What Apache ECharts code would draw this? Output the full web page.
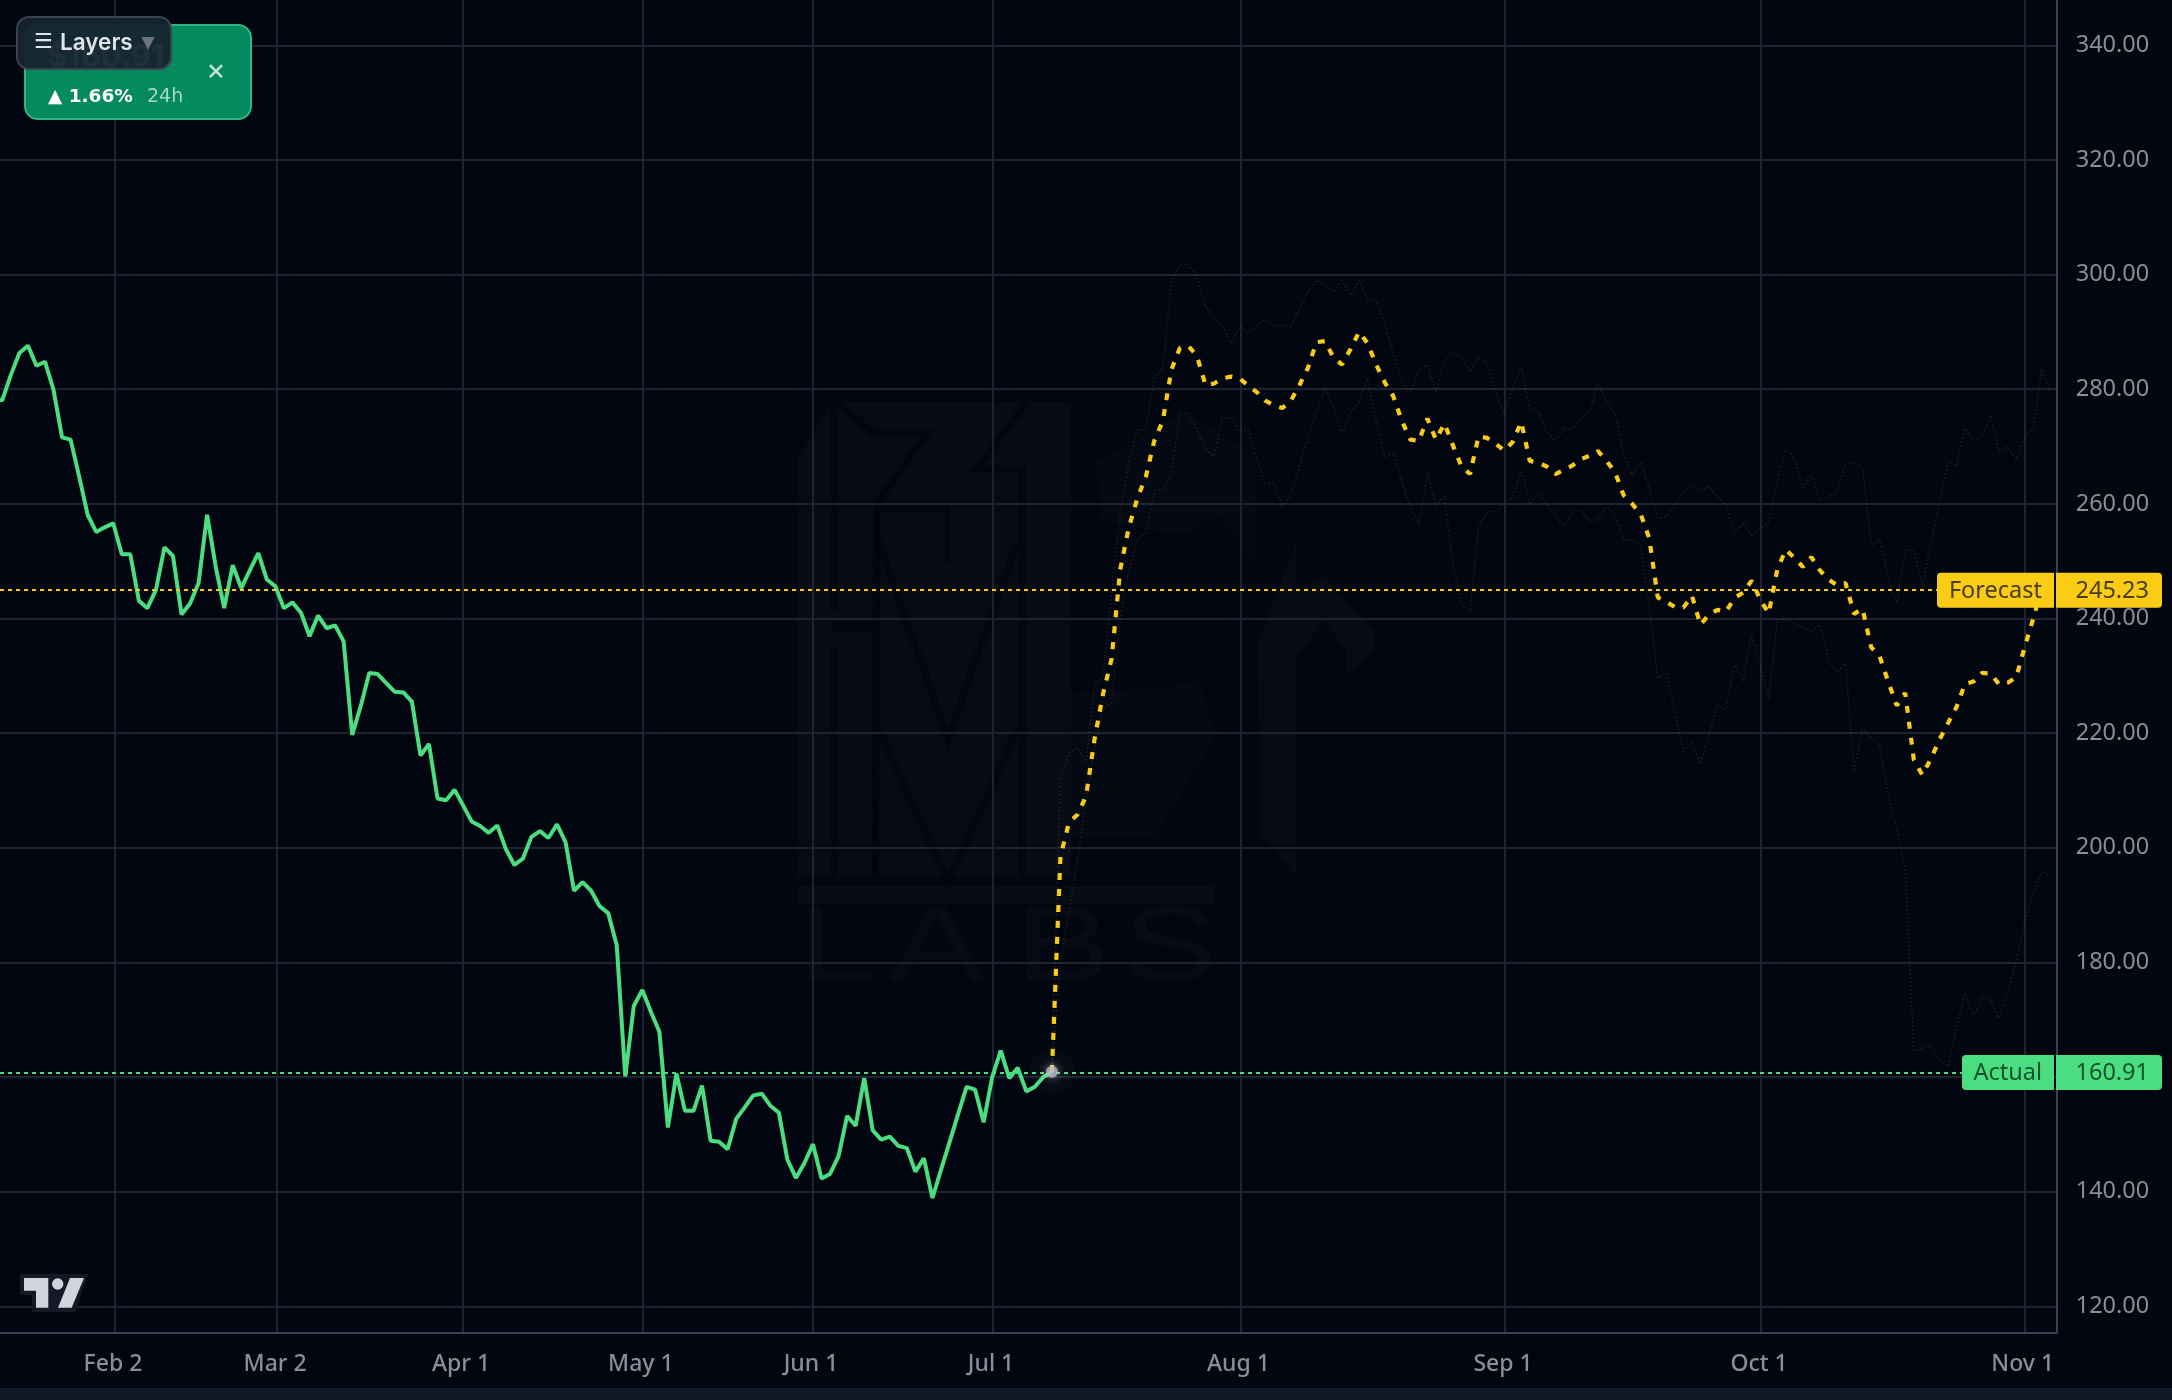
<!DOCTYPE html>
<html>
<head>
<meta charset="utf-8">
<title>Forecast vs actual</title>
<script src="https://cdn.jsdelivr.net/npm/echarts@6/dist/echarts.min.js"></script>
<style>
html, body { margin: 0; padding: 0; background: #020611; }
#chart { width: 2172px; height: 1400px; }
</style>
</head>
<body>
<div id="chart"></div>
<script>
// x axis is the bar index of the source chart (weekdays up to July, then calendar days)
const monthBars = [13.2, 32.2, 54, 75.06, 95, 116.1, 145.1, 176.1, 206.1, 237];
const monthLabels = ['Feb 2', 'Mar 2', 'Apr 1', 'May 1', 'Jun 1', 'Jul 1', 'Aug 1', 'Sep 1', 'Oct 1', 'Nov 1'];
const priceTicks = [120, 140, 160, 180, 200, 220, 240, 260, 280, 300, 320, 340];

const actualStart = -1;
const actual = [
  278.1, 278.1, 282.5, 286.3, 287.6, 284.1, 284.8, 279.9, 271.6, 271.2, 264.8,
  258.1, 255.1, 255.9, 256.6, 251.2, 251.2, 243.1, 241.8, 245, 252.4,
  250.9, 240.7, 242.6, 246.2, 258.1, 249.1, 241.8, 249.3, 245.3, 248.4,
  251.4, 246.8, 245.6, 241.8, 242.8, 241, 236.9, 240.5, 238.3, 238.8,
  236, 219.7, 224.7, 230.5, 230.3, 228.7, 227.2, 227.1, 225.5, 216.1,
  218.1, 208.6, 208.3, 210.1, 207.4, 204.6, 203.8, 202.6, 203.9, 199.8,
  197, 198.1, 201.9, 202.9, 201.7, 204.1, 201, 192.5, 194, 192.5,
  189.8, 188.6, 183, 160.1, 172.4, 175.2, 171.4, 167.9, 151.2, 160.6,
  154.1, 154.1, 158.5, 148.9, 148.7, 147.4, 152.7, 154.7, 156.8, 157.1,
  155, 153.8, 145.6, 142.4, 145, 148.3, 142.3, 143.1, 146.2, 153.2,
  151.5, 159.8, 150.7, 149.1, 149.6, 148, 147.6, 143.5, 145.8, 138.9,
  143.8, 148.6, 153.5, 158.3, 157.8, 152.1, 160, 164.6, 159.8, 161.6,
  157.5, 158.3, 160, 160.91
];

const forecastStart = 123;
const forecast = [
  160.91, 198.5, 204.4, 205.8, 209, 219, 226.9, 233,
  248.5, 255.8, 260.9, 264.7, 271, 274.5, 283.4, 287.2, 287.5, 285.8,
  280.7, 281, 281.9, 282.2, 281.9, 280.6, 279.5, 278, 277.2, 276.7,
  278, 280.7, 283.7, 288.2, 288.4, 285.5, 284.3, 287, 290, 288,
  284.3, 281.2, 278.8, 274.5, 271.2, 271, 274.9, 271.2, 274, 270.2,
  266.5, 265.2, 271.8, 271.5, 270.5, 269.3, 270.8, 274.3, 267.5, 267.2,
  266.5, 265.2, 265.9, 266.7, 267.8, 268.4, 269.2, 267.5, 265.5, 261.5,
  260, 258.2, 254, 243.7, 242.9, 242, 241.9, 244, 238.9, 240.7,
  241.5, 241.2, 243.6, 244.5, 246.6, 243.3, 240.9, 248.5, 252, 250.6,
  249, 250.7, 248.4, 246.8, 245.8, 246.2, 240.8, 241.7, 235, 233.4,
  229, 224.8, 227, 215.4, 212.7, 215.5, 218.8, 221.7, 224.5, 228.6,
  229, 230.5, 230.4, 228.5, 228.8, 229.7, 235, 240, 245.23
];

// faint band around the forecast, same start bar
const bandUpper = [
  160.91, 212, 216.5, 217.5, 215, 228.3, 230, 244.3,
  258.5, 267.3, 272.8, 273.1, 282, 283.6, 298.8, 301.7, 301.8, 299.5,
  294.5, 292.5, 291, 288, 291, 289.8, 291, 292.2, 290.9, 291.3,
  290.8, 294, 297, 299, 298.1, 297, 299, 296.3, 299, 295.6,
  295.4, 291.5, 286.3, 281.3, 279.4, 283.3, 284.3, 279.5, 285, 286.2,
  285.7, 283, 285.5, 284.5, 279.7, 275.6, 280.2, 283.9, 276.8, 276,
  272.5, 270.9, 273.3, 272.9, 274.9, 276, 281.1, 277.8, 275.5, 268.5,
  265, 267.3, 262.7, 257.5, 257.8, 260, 261.9, 263.3, 262.4, 263,
  261.3, 259.8, 254.9, 256.7, 254.3, 255.6, 256.9, 263.9, 269.8, 268,
  262.9, 265.1, 260.4, 261.3, 261.9, 267.1, 267.3, 266.1, 252.7, 253.7,
  247, 242.7, 251.9, 251.9, 245.6, 253.2, 260.3, 267.4, 266.5, 273.2,
  271, 271.7, 275.5, 269.1, 270, 267.7, 271.7, 273.3, 283.5, 279.3
];
const bandLower = [
  160.91, 180, 188.8, 198, 208.3, 217.5, 224, 225.4,
  239.6, 248.3, 253.6, 255, 262.3, 262.6, 264.9, 276, 275.7, 272.8,
  269.6, 268.3, 274.9, 275.1, 272.6, 273, 268, 263.5, 263.7, 259.4,
  261.7, 266.7, 271.3, 276, 280.3, 276.6, 272.2, 276, 277.8, 281.9,
  274.3, 268.1, 268.9, 263.7, 259.6, 256.4, 265.4, 259.6, 261.4, 249.1,
  242.7, 241.2, 256.1, 258.5, 258.7, 260.2, 261.1, 265.8, 259.9, 262,
  259.9, 257.9, 256.1, 258.5, 258.9, 257, 257.3, 259.5, 258.1, 253.6,
  253.7, 252.8, 242, 229.6, 230.5, 223.8, 216.8, 218.3, 214.6, 219.7,
  224.9, 224.1, 231.9, 229, 237.2, 231.6, 226.1, 239.8, 239.8, 239.2,
  238.4, 237.7, 238.9, 232.8, 230.5, 232.5, 213.3, 220.6, 219.3, 218,
  209.2, 203.2, 196.5, 164.6, 165, 165.5, 163, 161.8, 168.7, 174.7,
  170.5, 174, 173.4, 170.3, 175.1, 179.8, 187.1, 192.1, 195.7, 195.3
];

const actualLevel = 160.8;
const actualText = '160.91';
const forecastLevel = 244.94;
const forecastText = '245.23';

const GREEN = '#4ade80';
const YELLOW = '#facc15';
const AXIS_TEXT = '#8a8e9b';
const WATERMARK = '#070b14';
const WATERMARK_SOFT = '#050913';
const BG = '#020611';
const FONT = '"Noto Sans", sans-serif';

function toPairs(values, start) {
  return values.map((v, i) => [start + i, v]);
}

const chart = echarts.init(document.getElementById('chart'));

chart.setOption({
  animation: false,
  backgroundColor: BG,
  grid: { left: 0, top: 0, right: 115.3, bottom: 67.3 },
  xAxis: {
    type: 'value',
    min: -0.273,
    max: 240.75,
    axisLine: { show: true, onZero: false, lineStyle: { color: '#3a4252', width: 2 } },
    axisTick: { show: false, customValues: monthBars },
    axisLabel: {
      customValues: monthBars,
      color: AXIS_TEXT,
      fontFamily: FONT,
      fontSize: 23,
      fontWeight: 500,
      margin: 20,
      padding: [0, 4, 0, 0],
      formatter: (v) => monthLabels[monthBars.indexOf(v)] || ''
    },
    splitLine: { show: true, lineStyle: { color: '#1c2432', width: 2 } }
  },
  yAxis: {
    type: 'value',
    position: 'right',
    min: 115.4,
    max: 347.9,
    axisLine: { show: true, onZero: false, lineStyle: { color: '#3a4252', width: 2 } },
    axisTick: { show: false, customValues: priceTicks },
    axisLabel: {
      customValues: priceTicks,
      color: AXIS_TEXT,
      fontFamily: FONT,
      fontSize: 23.5,
      margin: 19,
      padding: [2, 0, 0, 0],
      formatter: (v) => v.toFixed(2)
    },
    splitLine: { show: true, lineStyle: { color: '#1c2432', width: 2 } }
  },
  series: [
    {
      name: 'Upper',
      type: 'line',
      data: toPairs(bandUpper, forecastStart),
      showSymbol: false,
      z: 2,
      lineStyle: { color: 'rgba(250,204,21,0.11)', width: 1.6, type: [2, 2] }
    },
    {
      name: 'Lower',
      type: 'line',
      data: toPairs(bandLower, forecastStart),
      showSymbol: false,
      z: 2,
      lineStyle: { color: 'rgba(250,204,21,0.11)', width: 1.6, type: [2, 2] }
    },
    {
      name: 'Actual',
      type: 'line',
      data: toPairs(actual, actualStart),
      showSymbol: false,
      z: 4,
      lineStyle: { color: GREEN, width: 4 },
      markLine: {
        silent: true,
        symbol: 'none',
        label: { show: false },
        lineStyle: { color: GREEN, width: 2, type: [4, 4] },
        data: [{ yAxis: actualLevel }]
      }
    },
    {
      name: 'Forecast',
      type: 'line',
      data: toPairs(forecast, forecastStart),
      showSymbol: false,
      z: 5,
      lineStyle: { color: YELLOW, width: 4.2, type: [7, 9] },
      markLine: {
        silent: true,
        symbol: 'none',
        label: { show: false },
        lineStyle: { color: YELLOW, width: 2, type: [4, 4] },
        data: [{ yAxis: forecastLevel }]
      }
    },
    {
      name: 'Last halo',
      type: 'scatter',
      data: [[forecastStart, actual[actual.length - 1]]],
      symbolSize: 46,
      z: 6,
      itemStyle: { color: 'rgba(255,255,255,0.03)' }
    },
    {
      name: 'Last',
      type: 'scatter',
      data: [[forecastStart, actual[actual.length - 1]]],
      symbolSize: 12,
      z: 7,
      itemStyle: { color: '#b6bac8', shadowBlur: 10, shadowColor: 'rgba(255,255,255,0.6)' }
    }
  ]
});

function poly(points, fill, z) {
  return { type: 'polygon', z: z, silent: true, shape: { points: points }, style: { fill: fill } };
}
function darkLine(points, width) {
  return {
    type: 'polyline', z: -1, silent: true,
    shape: { points: points },
    style: { stroke: BG, lineWidth: width, fill: null }
  };
}
function label(x, y, text, fill, font, align, z) {
  return {
    type: 'text', z: z, silent: true, x: x, y: y,
    style: { text: text, fill: fill, font: font, align: align, verticalAlign: 'middle' }
  };
}
function wideLetter(x, text) {
  const el = label(x, 951, text, WATERMARK, '106px "Liberation Sans", sans-serif', 'left', -2);
  el.scaleX = 1.36;
  return el;
}

// watermark behind the plot
const watermark = [
  poly([[797, 460], [832, 402], [1071, 402], [1071, 877], [797, 877]], WATERMARK, -2),
  poly([[1096, 462], [1183, 413], [1255, 453], [1256, 563], [1219, 515], [1180, 535], [1100, 520]], WATERMARK_SOFT, -2),
  poly([[1071, 694], [1175, 686], [1199, 680], [1215, 735], [1156, 837], [1071, 837]], WATERMARK_SOFT, -2),
  poly([[1258, 641], [1296, 543], [1296, 592], [1324, 576], [1375, 633], [1375, 647], [1347, 676], [1347, 651],
    [1324, 621], [1296, 659], [1296, 877], [1260, 833]], WATERMARK, -2),
  darkLine([[834, 402], [834, 610]], 6),
  darkLine([[834, 647], [834, 877]], 6),
  darkLine([[832, 627], [872, 627]], 12),
  darkLine([[837, 402], [873, 433], [927, 433], [877, 503], [875, 877]], 7),
  darkLine([[877, 508], [947, 508], [947, 563]], 7),
  darkLine([[879, 543], [948, 739], [1017, 543]], 7),
  darkLine([[879, 731], [948, 881], [1017, 731]], 7),
  darkLine([[1027, 402], [977, 469], [1022, 469], [1022, 877]], 7),
  { type: 'rect', z: -2, silent: true, shape: { x: 797, y: 886, width: 418, height: 18 }, style: { fill: WATERMARK } },
  wideLetter(797, 'L'),
  wideLetter(889, 'A'),
  wideLetter(1015, 'B'),
  wideLetter(1122, 'S')
];

// page strip below the time axis
const strip = [
  { type: 'rect', z: -3, silent: true, shape: { x: 0, y: 1388, width: 2172, height: 12 }, style: { fill: '#111827' } }
];

// price tags sit on the level they mark
function priceTag(level, name, text, bg, fg, tagLeft) {
  const y = chart.convertToPixel({ yAxisIndex: 0 }, level);
  const top = y - 17.5;
  return [
    { type: 'rect', z: 50, silent: true, shape: { x: tagLeft, y: top, width: 2054 - tagLeft, height: 35, r: [4, 0, 0, 4] }, style: { fill: bg } },
    { type: 'rect', z: 50, silent: true, shape: { x: 2056, y: top, width: 106, height: 35, r: [0, 4, 4, 0] }, style: { fill: bg } },
    label(2042, y + 1, name, fg, '23.5px ' + FONT, 'right', 51),
    label(2149, y + 1, text, fg, '23.5px ' + FONT, 'right', 51)
  ];
}

// tradingview mark, bottom left
const logo = [
  {
    type: 'polygon', z: 40, silent: true,
    shape: { points: [[20, 1274], [88, 1274], [75, 1312], [32, 1312], [32, 1295], [20, 1295]] },
    style: { fill: '#131a26' }
  },
  poly([[24, 1278], [48.3, 1278], [48.3, 1307.7], [36, 1307.7], [36, 1290.7], [24, 1290.7]], '#d1d4dc', 41),
  { type: 'circle', z: 41, silent: true, shape: { cx: 57.7, cy: 1284, r: 5.7 }, style: { fill: '#d1d4dc' } },
  poly([[70, 1278], [84, 1278], [71.7, 1307.7], [58, 1307.7]], '#d1d4dc', 41)
];

// price badge with the layers button on top of it
const overlay = [
  {
    type: 'rect', z: 60, silent: true,
    shape: { x: 25, y: 25, width: 226, height: 94, r: 13 },
    style: { fill: '#048a5e', stroke: '#2fb583', lineWidth: 2 }
  },
  label(47, 58, '$160.91', '#ffffff', 'bold 31px Inter, sans-serif', 'left', 61),
  label(48, 97, '\u25B2 1.66%', '#ffffff', 'bold 18.5px "DejaVu Sans", sans-serif', 'left', 61),
  label(147, 97, '24h', '#a9d6c4', '19px "DejaVu Sans", sans-serif', 'left', 61),
  label(216, 71, '\u00D7', '#c3e6d8', '30px Inter, sans-serif', 'center', 61),
  {
    type: 'rect', z: 62, silent: true,
    shape: { x: 17, y: 17, width: 154, height: 52, r: 12 },
    style: { fill: 'rgba(21,36,46,0.95)', stroke: '#3a4252', lineWidth: 2 }
  },
  label(34, 43, '\u2630', '#dfe3ea', 'bold 21px "DejaVu Sans", sans-serif', 'left', 63),
  label(60, 43, 'Layers', '#dfe3ea', '600 22.5px Inter, sans-serif', 'left', 63),
  label(148, 44, '\u25BC', '#6b7280', '17px "DejaVu Sans", sans-serif', 'center', 63)
];

chart.setOption({
  graphic: {
    elements: [].concat(
      strip,
      watermark,
      logo,
      priceTag(forecastLevel, 'Forecast', forecastText, YELLOW, '#4a3d10', 1937),
      priceTag(actualLevel, 'Actual', actualText, GREEN, '#14532d', 1962),
      overlay
    )
  }
});
</script>
</body>
</html>
